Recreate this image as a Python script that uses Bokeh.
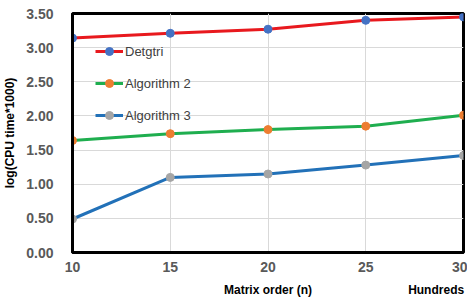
from bokeh.plotting import figure
from bokeh.models import Range1d, FixedTicker, NumeralTickFormatter, LinearAxis
from bokeh.embed import file_html
from bokeh.resources import INLINE

x_vals = [10, 15, 20, 25, 30]
detgtri = [3.14, 3.21, 3.27, 3.40, 3.45]
algorithm2 = [1.64, 1.74, 1.80, 1.85, 2.01]
algorithm3 = [0.49, 1.10, 1.15, 1.28, 1.42]
y_ticks = [0, 0.5, 1.0, 1.5, 2.0, 2.5, 3.0, 3.5]
x_title = "Matrix order (n)"
x_unit = "Hundreds"

series = [
    ("Detgtri", detgtri, "#E8191E", "#4472C4"),
    ("Algorithm 2", algorithm2, "#1FAE4F", "#ED7D31"),
    ("Algorithm 3", algorithm3, "#2271B8", "#A5A5A5"),
]

p = figure(width=467, height=299, output_backend="svg", toolbar_location=None,
           x_range=Range1d(10, 30), y_range=Range1d(0, 3.5),
           min_border_left=0, min_border_right=4, min_border_top=13, min_border_bottom=0)

for name, ys, lc, mc in series:
    p.line(x_vals, ys, line_color=lc, line_width=3, legend_label=name)
    p.scatter(x_vals, ys, size=8, fill_color=mc, line_color=mc, legend_label=name)

p.outline_line_color = "black"
p.outline_line_width = 3
p.outline_line_alpha = 1

for ax in (p.xaxis[0], p.yaxis[0]):
    ax.axis_line_color = "black"
    ax.axis_line_width = 3
    ax.major_tick_line_color = None
    ax.minor_tick_line_color = None
    ax.major_label_text_font = "Liberation Sans"
    ax.major_label_text_font_style = "bold"
    ax.major_label_text_font_size = "14px"
    ax.major_label_text_color = "#595959"
    ax.axis_label_text_font = "Liberation Sans"
    ax.axis_label_text_font_style = "bold"
    ax.axis_label_text_font_size = "12px"
    ax.axis_label_text_color = "black"

p.xaxis.ticker = FixedTicker(ticks=x_vals)
p.yaxis.ticker = FixedTicker(ticks=y_ticks)
p.yaxis.formatter = NumeralTickFormatter(format="0.00")
p.xaxis.major_label_standoff = 3
p.yaxis.major_label_standoff = 13
p.yaxis.axis_label = "log(CPU time*1000)"
p.yaxis.axis_label_standoff = 6

# second, label-only axis carrying the x title and the unit note
title_axis = LinearAxis(ticker=FixedTicker(ticks=[20, 28.6]),
                        major_label_overrides={20: x_title, 28.6: x_unit},
                        axis_line_color=None, major_tick_line_color=None,
                        minor_tick_line_color=None, major_label_standoff=2,
                        major_label_text_font="Liberation Sans",
                        major_label_text_font_style="bold",
                        major_label_text_font_size="12px",
                        major_label_text_color="black")
p.add_layout(title_axis, "below")

p.xgrid.ticker = FixedTicker(ticks=x_vals)
p.ygrid.ticker = FixedTicker(ticks=y_ticks)
p.grid.grid_line_color = "#D9D9D9"
p.grid.grid_line_width = 1

lg = p.legend[0]
lg.location = (23, 127)
lg.padding = 0
lg.margin = 0
lg.spacing = 12
lg.border_line_color = None
lg.background_fill_alpha = 0
lg.glyph_width = 28
lg.glyph_height = 20
lg.label_height = 20
lg.label_standoff = 2
lg.label_text_font = "Liberation Sans"
lg.label_text_font_size = "13px"
lg.label_text_color = "#404040"

open("out.html", "w").write(file_html(p, INLINE))
